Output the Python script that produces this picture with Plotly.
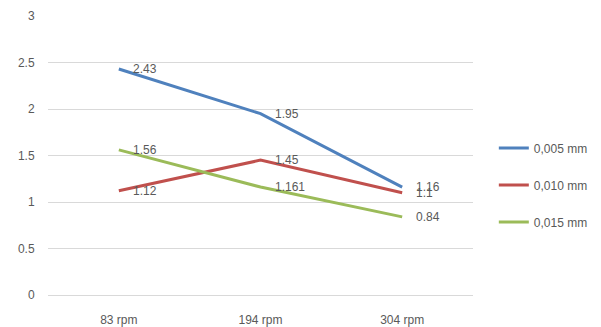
import plotly.graph_objects as go

categories = ["83 rpm", "194 rpm", "304 rpm"]
series_names = ["0,005 mm", "0,010 mm", "0,015 mm"]
s005 = [2.43, 1.95, 1.16]
s010 = [1.12, 1.45, 1.1]
s015 = [1.56, 1.161, 0.84]
colors = ["#4F81BD", "#C0504D", "#9BBB59"]
y_ticks = [0, 0.5, 1, 1.5, 2, 2.5, 3]

font_family = "Liberation Sans, Arial, sans-serif"
text_color = "#595959"

fig = go.Figure()
annotations = []
for name, vals, col in zip(series_names, [s005, s010, s015], colors):
    fig.add_trace(go.Scatter(
        x=categories, y=vals, mode="lines", name=name,
        line=dict(color=col, width=3), legendgroup=name,
    ))
    for c, v in zip(categories, vals):
        annotations.append(dict(
            x=c, y=v, text=f"{v:g}", showarrow=False, xanchor="left",
            yanchor="middle", xshift=12,
            font=dict(family=font_family, size=12, color=text_color),
        ))

fig.update_layout(
    width=593, height=319,
    margin=dict(l=40, r=128, t=8, b=32, autoexpand=False),
    paper_bgcolor="white", plot_bgcolor="white",
    font=dict(family=font_family, size=12, color=text_color),
    annotations=annotations,
    showlegend=True,
    legend=dict(
        x=1.049, xanchor="left", xref="paper", y=0.394, yanchor="middle",
        font=dict(family=font_family, size=12, color=text_color),
        tracegroupgap=18, traceorder="grouped",
        bgcolor="rgba(0,0,0,0)", itemwidth=30,
    ),
    xaxis=dict(
        type="category", range=[-0.5, 2.5], showgrid=False, zeroline=False,
        showline=False, ticks="outside", ticklen=14, tickcolor="rgba(0,0,0,0)",
        tickfont=dict(family=font_family, size=12, color=text_color),
        automargin=False,
    ),
    yaxis=dict(
        range=[0, 3], tickvals=y_ticks, ticktext=[f"{t:g}" for t in y_ticks],
        showgrid=True, gridcolor="#D9D9D9", gridwidth=1,
        zeroline=True, zerolinecolor="#D9D9D9", zerolinewidth=1,
        showline=False, ticks="outside", ticklen=10, tickcolor="rgba(0,0,0,0)",
        tickfont=dict(family=font_family, size=12, color=text_color),
        automargin=False,
    ),
)

fig.write_html("out.html")
